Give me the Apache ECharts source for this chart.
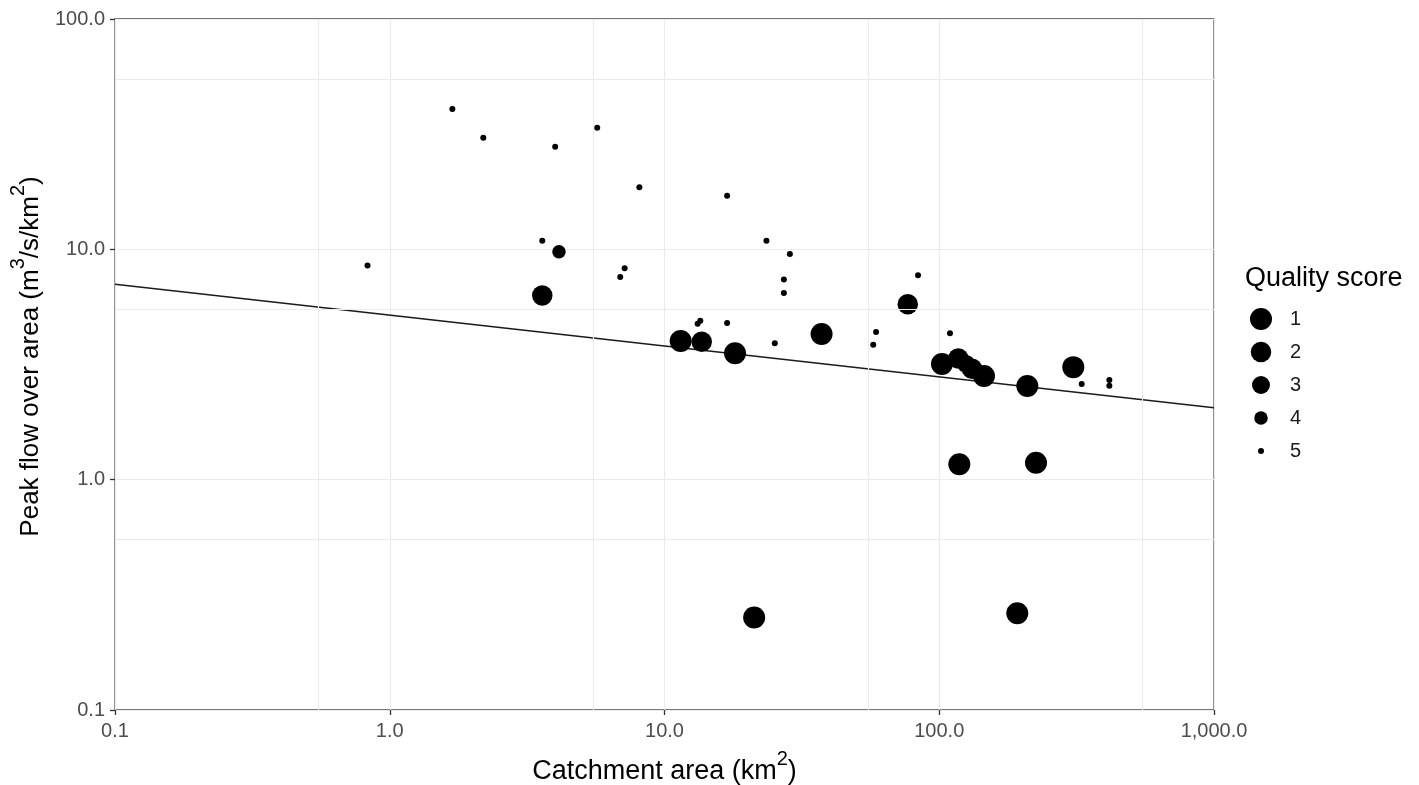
<!DOCTYPE html>
<html>
<head>
<meta charset="utf-8">
<script src="https://cdn.jsdelivr.net/npm/echarts@6/dist/echarts.min.js"></script>
<style>
html,body{margin:0;padding:0;background:#fff;}
#chart{width:1419px;height:785px;}
</style>
</head>
<body>
<div id="chart"></div>
<script>
// ---- data ----
const areaKm2 = [0.83, 1.69, 2.19, 3.59, 4.0, 5.69, 7.16, 6.9, 8.1, 13.2, 13.5, 16.9, 16.9, 23.5, 25.2, 27.2, 27.2, 28.6, 57.5, 58.9, 83.7, 109.4, 330, 416, 416,
                 4.13,
                 3.59, 11.45, 13.66, 18.06, 21.2, 37.3, 76.8, 102.3, 117.3, 125.2, 131.6, 145.5, 118.3, 192.3, 209.2, 225, 307.5];
const peakFlow = [8.5, 40.7, 30.5, 10.9, 27.9, 33.7, 8.28, 7.59, 18.6, 4.75, 4.9, 4.79, 17.1, 10.9, 3.91, 7.39, 6.47, 9.55, 3.85, 4.38, 7.72, 4.32, 2.6, 2.71, 2.56,
                  9.77,
                  6.3, 4.0, 3.97, 3.54, 0.252, 4.29, 5.78, 3.18, 3.36, 3.18, 3.03, 2.82, 1.166, 0.263, 2.55, 1.185, 3.08];
const qualityScore = [5, 5, 5, 5, 5, 5, 5, 5, 5, 5, 5, 5, 5, 5, 5, 5, 5, 5, 5, 5, 5, 5, 5, 5, 5,
                      4,
                      2, 1, 2, 1, 1, 1, 2, 1, 2, 3, 2, 1, 1, 1, 1, 1, 1];
const scoreLevels = [1, 2, 3, 4, 5];
const fitArea = [0.1, 1000];
const fitPeak = [7.06, 2.05];
const xMinorBreaks = [0.55, 5.5, 55, 550];
const yMinorBreaks = [0.55, 5.5, 55];

// ---- styling ----
const FONT = '"Liberation Sans", Arial, sans-serif';
const sizeByScore = {1: 22, 2: 20.5, 3: 18, 4: 13.5, 5: 6};
const gridColor = '#ebebeb';

function fmt(v) {
  return Number(v).toLocaleString('en-US', {minimumFractionDigits: 1, maximumFractionDigits: 1});
}

function richTitle(size) {
  return {
    t: {fontSize: size, color: '#000', fontFamily: FONT, lineHeight: 36, verticalAlign: 'bottom'},
    s: {fontSize: 20, color: '#000', fontFamily: FONT, lineHeight: 17, verticalAlign: 'top'}
  };
}

const series = [];
// minor grid lines (placed under everything else)
series.push({
  type: 'line',
  name: 'minorGrid',
  data: [],
  z: 1,
  silent: true,
  animation: false,
  markLine: {
    silent: true,
    symbol: ['none', 'none'],
    label: {show: false},
    lineStyle: {color: gridColor, width: 1.1, type: 'solid'},
    animation: false,
    data: xMinorBreaks.map(v => ({xAxis: v})).concat(yMinorBreaks.map(v => ({yAxis: v})))
  }
});
series.push({
  type: 'line',
  name: 'fit',
  data: fitArea.map((x, i) => [x, fitPeak[i]]),
  showSymbol: false,
  symbol: 'none',
  lineStyle: {color: '#1a1a1a', width: 1.5},
  z: 2,
  silent: true,
  animation: false
});
scoreLevels.forEach(s => {
  const pts = [];
  for (let i = 0; i < areaKm2.length; i++) {
    if (qualityScore[i] === s) pts.push([areaKm2[i], peakFlow[i]]);
  }
  series.push({
    type: 'scatter',
    name: String(s),
    data: pts,
    symbol: 'circle',
    symbolSize: sizeByScore[s],
    itemStyle: {color: '#000', opacity: 1},
    z: 3,
    animation: false
  });
});

const legendCenters = [319, 352, 385, 418, 451];
const legends = scoreLevels.map((s, i) => {
  const w = sizeByScore[s];
  return {
    data: [String(s)],
    left: 1261 - w / 2,
    top: legendCenters[i] - 12,
    padding: 0,
    itemWidth: w,
    itemHeight: w,
    icon: 'circle',
    selectedMode: false,
    itemStyle: {color: '#000'},
    textStyle: {fontSize: 20, color: '#1a1a1a', fontFamily: FONT, lineHeight: 24, padding: [0, 0, 0, 24 - w / 2]}
  };
});

const option = {
  backgroundColor: '#fff',
  animation: false,
  textStyle: {fontFamily: FONT},
  title: {
    text: 'Quality score',
    left: 1245,
    top: 265,
    padding: 0,
    textStyle: {fontSize: 27, fontWeight: 'normal', color: '#000', fontFamily: FONT}
  },
  legend: legends,
  grid: {
    left: 115, right: 205, top: 19, bottom: 75,
    show: true, borderColor: '#4d4d4d', borderWidth: 1.3,
    containLabel: false, outerBoundsMode: 'none'
  },
  xAxis: {
    type: 'log', logBase: 10, min: 0.1, max: 1000, splitNumber: 4,
    name: '{t|Catchment area (km}{s|2}{t|)}',
    nameLocation: 'middle', nameGap: 39,
    nameTextStyle: {rich: richTitle(27)},
    axisLine: {show: false},
    axisTick: {show: true, length: 5, lineStyle: {color: '#333', width: 1.3}},
    axisLabel: {formatter: fmt, fontSize: 20, color: '#4d4d4d', fontFamily: FONT, margin: 11},
    splitLine: {show: true, lineStyle: {color: gridColor, width: 1.2}},
    minorTick: {show: false}, minorSplitLine: {show: false}
  },
  yAxis: {
    type: 'log', logBase: 10, min: 0.1, max: 100, splitNumber: 3,
    name: '{t|Peak flow over area (m}{s|3}{t|/s/km}{s|2}{t|)}',
    nameLocation: 'middle', nameGap: 64,
    nameTextStyle: {rich: richTitle(26), padding: [0, 0, 0, 16]},
    axisLine: {show: false},
    axisTick: {show: true, length: 5, lineStyle: {color: '#333', width: 1.3}},
    axisLabel: {formatter: fmt, fontSize: 20, color: '#4d4d4d', fontFamily: FONT, margin: 10},
    splitLine: {show: true, lineStyle: {color: gridColor, width: 1.2}},
    minorTick: {show: false}, minorSplitLine: {show: false}
  },
  series: series
};

const chart = echarts.init(document.getElementById('chart'), null, {renderer: 'canvas'});
chart.setOption(option);
</script>
</body>
</html>
